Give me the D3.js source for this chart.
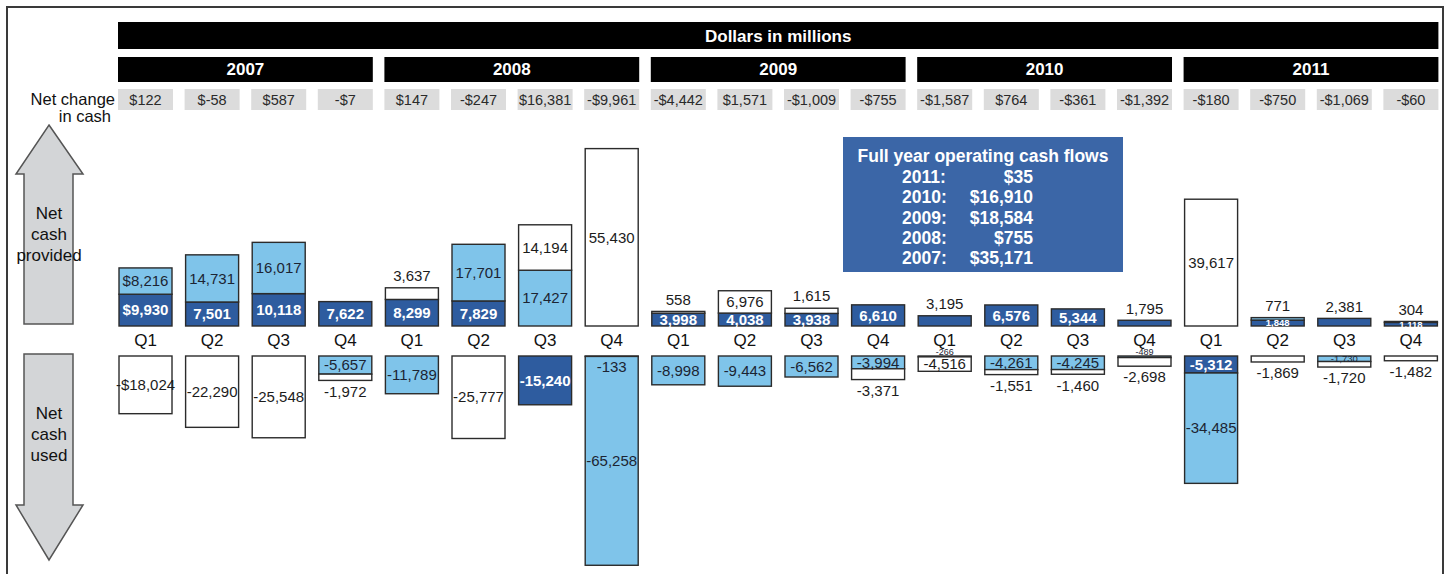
<!DOCTYPE html>
<html>
<head>
<meta charset="utf-8">
<script src="https://cdn.jsdelivr.net/npm/d3@7"></script>
<style>
  html, body { margin: 0; padding: 0; background: #fff; }
  svg { display: block; font-family: "Liberation Sans", Arial, sans-serif; }
</style>
</head>
<body>
<svg id="chart" width="1449" height="574"></svg>
<script>
  const YEARS = ["2007", "2008", "2009", "2010", "2011"];
  const QUARTERS = ["Q1", "Q2", "Q3", "Q4"];

  const NET_CHANGE = [
    "$122", "$-58", "$587", "-$7",
    "$147", "-$247", "$16,381", "-$9,961",
    "-$4,442", "$1,571", "-$1,009", "-$755",
    "-$1,587", "$764", "-$361", "-$1,392",
    "-$180", "-$750", "-$1,069", "-$60",
  ];

  // dark blue segments
  const OPERATING = [
    9930, 7501, 10118, 7622,
    8299, 7829, -15240, -133,
    3998, 4038, 3938, 6610,
    3195, 6576, 5344, 1795,
    -5312, 1848, 2381, 1118,
  ];
  // light blue segments
  const INVESTING = [
    8216, 14731, 16017, -5657,
    -11789, 17701, 17427, -65258,
    -8998, -9443, -6562, -3994,
    -266, -4261, -4245, -489,
    -34485, 771, -1730, 304,
  ];
  // white segments
  const FINANCING = [
    -18024, -22290, -25548, -1972,
    3637, -25777, 14194, 55430,
    558, 6976, 1615, -3371,
    -4516, -1551, -1460, -2698,
    39617, -1869, -1720, -1482,
  ];

  const FULL_YEAR_LABELS = ["2011:", "2010:", "2009:", "2008:", "2007:"];
  const FULL_YEAR_VALUES = ["$35", "$16,910", "$18,584", "$755", "$35,171"];

  const SERIES = [
    { key: "operating", values: OPERATING, fill: "#2e5c9f", text: "#fff", bold: true },
    { key: "investing", values: INVESTING, fill: "#7fc4ea", text: "#1c2433", bold: false },
    { key: "financing", values: FINANCING, fill: "#ffffff", text: "#1c1c1c", bold: false },
  ];

  const POS_BASE = 326;
  const NEG_BASE = 356;
  const BAR_W = 53;

  const svg = d3.select("#chart");

  const quarterKeys = [];
  YEARS.forEach((y) => QUARTERS.forEach((q) => quarterKeys.push(y + " " + q)));

  const x = d3.scaleBand().domain(quarterKeys).range([118, 1438.4]).paddingInner(0.174).paddingOuter(0);
  const h = d3.scaleLinear().domain([0, 55430]).range([0, 177.4]);

  const fmt = d3.format(",");
  function label(v, i) {
    const sign = v < 0 ? "-" : "";
    return sign + (i === 0 ? "$" : "") + fmt(Math.abs(v));
  }

  // frame
  svg.append("path")
    .attr("d", "M7,574V7H1443V574")
    .attr("fill", "none")
    .attr("stroke", "#3a3a3a")
    .attr("stroke-width", 2);

  // header bars
  const first = x(quarterKeys[0]);
  const last = x(quarterKeys[quarterKeys.length - 1]) + x.bandwidth();
  svg.append("rect").attr("x", first).attr("y", 22).attr("width", last - first).attr("height", 27).attr("fill", "#000");
  svg.append("text")
    .attr("x", (first + last) / 2).attr("y", 36).attr("dy", "0.35em")
    .attr("text-anchor", "middle").attr("fill", "#fff")
    .style("font-size", "17px").style("font-weight", "bold")
    .text("Dollars in millions");

  const yearG = svg.append("g").selectAll("g").data(YEARS).join("g");
  yearG.append("rect")
    .attr("x", (d) => x(d + " Q1"))
    .attr("y", 57)
    .attr("width", (d) => x(d + " Q4") + x.bandwidth() - x(d + " Q1"))
    .attr("height", 25)
    .attr("fill", "#000");
  yearG.append("text")
    .attr("x", (d) => (x(d + " Q1") + x(d + " Q4") + x.bandwidth()) / 2)
    .attr("y", 69.5).attr("dy", "0.35em")
    .attr("text-anchor", "middle").attr("fill", "#fff")
    .style("font-size", "17px").style("font-weight", "bold")
    .text((d) => d);

  // net change row
  svg.append("text").attr("x", 115).attr("y", 99).attr("dy", "0.35em").attr("text-anchor", "end")
    .attr("fill", "#111").style("font-size", "16.5px").text("Net change");
  svg.append("text").attr("x", 111).attr("y", 116).attr("dy", "0.35em").attr("text-anchor", "end")
    .attr("fill", "#111").style("font-size", "16.5px").text("in cash");

  const ncG = svg.append("g").selectAll("g").data(quarterKeys).join("g");
  ncG.append("rect")
    .attr("x", (d) => x(d)).attr("y", 89)
    .attr("width", x.bandwidth()).attr("height", 21)
    .attr("fill", "#dcdcdc");
  ncG.append("text")
    .attr("x", (d) => x(d) + x.bandwidth() / 2).attr("y", 100).attr("dy", "0.35em")
    .attr("text-anchor", "middle").attr("fill", "#2a2a2a")
    .style("font-size", "14.5px")
    .text((d, i) => NET_CHANGE[i]);

  // arrows
  const arrows = svg.append("g").attr("fill", "#d3d5d7").attr("stroke", "#555").attr("stroke-width", 1.5);
  arrows.append("polygon").attr("points", "49,125 83,174 73,174 73,324 24,324 24,174 16,174");
  arrows.append("polygon").attr("points", "24,354 73,354 73,505 83,505 49,560 16,505 24,505");
  const arrowText = svg.append("g").attr("text-anchor", "middle").attr("fill", "#111").style("font-size", "17px");
  [["Net", 213], ["cash", 234], ["provided", 255], ["Net", 413], ["cash", 434], ["used", 455]].forEach(([t, yy]) => {
    arrowText.append("text").attr("x", 49).attr("y", yy).attr("dy", "0.35em").text(t);
  });

  // build segments
  const segs = [];
  quarterKeys.forEach((k, i) => {
    let pos = 0, neg = 0;
    const list = [];
    SERIES.forEach((s) => {
      const v = s.values[i];
      if (v > 0) {
        list.push({ s, v, i, k, side: 1, y0: pos, y1: pos + v });
        pos += v;
      } else if (v < 0) {
        list.push({ s, v, i, k, side: -1, y0: neg, y1: neg - v });
        neg -= v;
      }
    });
    [1, -1].forEach((side) => {
      const stack = list.filter((d) => d.side === side);
      stack.forEach((d, j) => {
        d.outer = j === stack.length - 1;
        d.next = stack[j + 1] || null;
      });
    });
    list.forEach((d) => {
      if (d.side > 0) {
        d.top = POS_BASE - h(d.y1);
        d.bottom = POS_BASE - h(d.y0);
      } else {
        d.top = NEG_BASE + h(d.y0);
        d.bottom = NEG_BASE + h(d.y1);
      }
      d.hh = d.bottom - d.top;
      segs.push(d);
    });
  });

  const cx = (d) => x(d.k) + x.bandwidth() / 2;

  svg.append("g").selectAll("rect").data(segs).join("rect")
    .attr("x", (d) => cx(d) - BAR_W / 2)
    .attr("y", (d) => d.top)
    .attr("width", BAR_W)
    .attr("height", (d) => Math.max(d.hh, 0.5))
    .attr("fill", (d) => d.s.fill)
    .attr("stroke", "#2b2b2b")
    .attr("stroke-width", 1.4);

  // segment labels
  segs.forEach((d) => {
    let ly, size = 15, color = d.s.text, bold = d.s.bold;
    if (d.outer && d.side > 0 && d.hh < 13) {
      ly = d.top - 12; color = "#1c1c1c"; bold = false;
    } else if (d.outer && d.side < 0 && d.hh < 13) {
      ly = d.bottom + 11; color = "#1c1c1c"; bold = false;
    } else if (!d.outer && d.hh < 11 && d.next && d.next.hh > 40) {
      // tiny slice sitting on a tall one: label goes just inside the tall one
      ly = d.side < 0 ? d.bottom + 10 : d.top - 10;
      color = d.next.s.text; bold = d.next.s.bold;
    } else if (!d.outer && d.side < 0 && d.hh < 3) {
      // sliver right under the baseline: tiny label just above it
      ly = d.top - 4; size = 9;
    } else {
      ly = (d.top + d.bottom) / 2;
      if (!d.outer && d.hh < 11) size = 9.5;
    }
    svg.append("text")
      .attr("x", cx(d)).attr("y", ly).attr("dy", "0.35em")
      .attr("text-anchor", "middle")
      .attr("fill", color)
      .style("font-size", size + "px")
      .style("font-weight", bold ? "bold" : "normal")
      .text(label(d.v, d.i));
  });

  // quarter labels
  svg.append("g").selectAll("text").data(quarterKeys).join("text")
    .attr("x", (d) => x(d) + x.bandwidth() / 2)
    .attr("y", 340).attr("dy", "0.35em")
    .attr("text-anchor", "middle").attr("fill", "#111")
    .style("font-size", "17px")
    .text((d) => d.split(" ")[1]);

  // full year box
  const box = svg.append("g");
  box.append("rect").attr("x", 843).attr("y", 137).attr("width", 280).attr("height", 135).attr("fill", "#3b66a7");
  box.append("text").attr("x", 983).attr("y", 156).attr("dy", "0.35em").attr("text-anchor", "middle")
    .attr("fill", "#fff").style("font-size", "17.5px").style("font-weight", "bold")
    .text("Full year operating cash flows");
  const rowY = d3.scalePoint().domain(FULL_YEAR_LABELS).range([177, 258]);
  box.selectAll("text.yr").data(FULL_YEAR_LABELS).join("text").attr("class", "yr")
    .attr("x", 902).attr("y", (d) => rowY(d)).attr("dy", "0.35em")
    .attr("fill", "#fff").style("font-size", "17.5px").style("font-weight", "bold")
    .text((d) => d);
  box.selectAll("text.val").data(FULL_YEAR_VALUES).join("text").attr("class", "val")
    .attr("x", 1033).attr("y", (d, i) => rowY(FULL_YEAR_LABELS[i])).attr("dy", "0.35em")
    .attr("text-anchor", "end")
    .attr("fill", "#fff").style("font-size", "17.5px").style("font-weight", "bold")
    .text((d) => d);
</script>
</body>
</html>
